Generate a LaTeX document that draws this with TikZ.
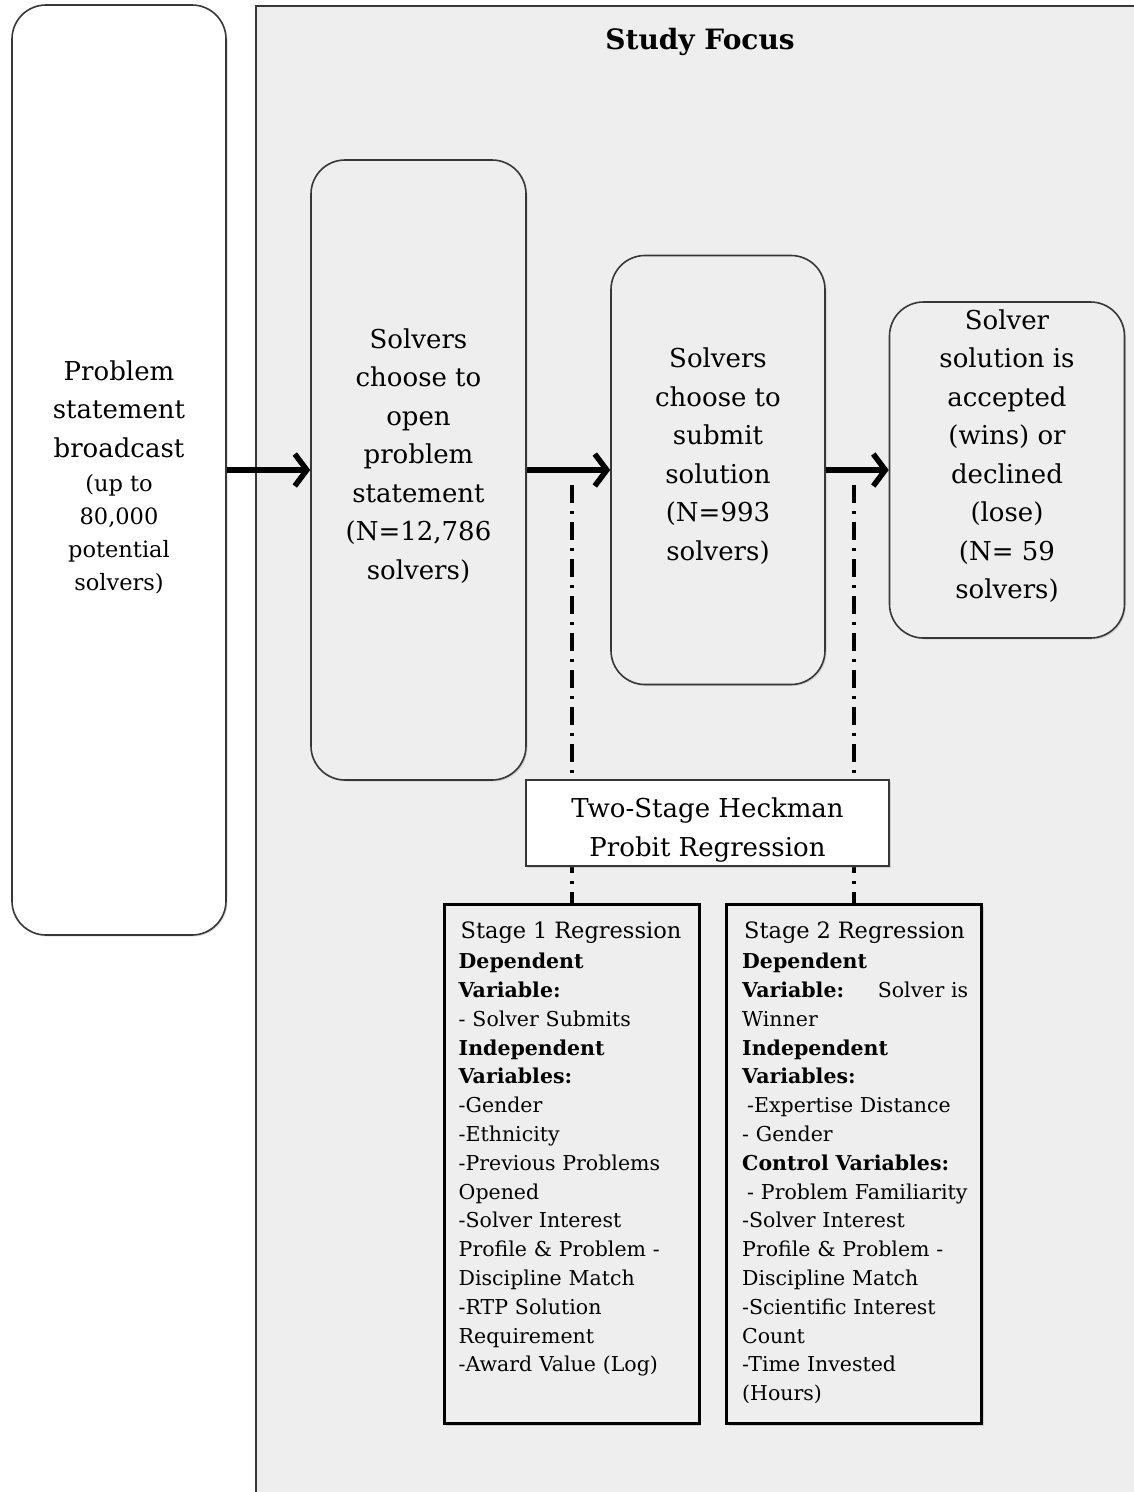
\documentclass[tikz,border=0pt]{standalone}
\usepackage{fontspec}
\setmainfont{DejaVu Serif}
\usetikzlibrary{arrows.meta, positioning, shadows}
\definecolor{panelgray}{RGB}{238,238,238}
\definecolor{edgegray}{RGB}{55,55,55}
\newcommand{\smalltxt}{\fontsize{22.5}{33}\selectfont}
\newcommand{\padbelow}{\rule[-32pt]{0pt}{1pt}}
\newcommand{\padabove}{\rule{0pt}{34pt}}

\tikzset{
  stepbox/.style={draw=edgegray, line width=1.6pt, rounded corners=34pt, align=center,
    inner sep=4pt, font=\fontsize{26}{38.5}\selectfont,
    drop shadow={opacity=0.25, shadow xshift=1.5pt, shadow yshift=-1.5pt}},
  regbox/.style={draw=black, line width=3pt, fill=panelgray, anchor=north,
    minimum width=255pt, minimum height=519pt,
    drop shadow={opacity=0.3, shadow xshift=2pt, shadow yshift=-2pt}},
  regtext/.style={anchor=north west, inner sep=0pt, text width=226pt, align=left,
    font=\fontsize{20.5}{28.8}\selectfont},
  headbox/.style={draw=edgegray, line width=1.6pt, fill=white, align=center,
    minimum width=363pt, minimum height=86pt, font=\fontsize{26}{38.5}\selectfont,
    drop shadow={opacity=0.25, shadow xshift=1.5pt, shadow yshift=-1.5pt}},
  flowarrow/.style={line width=5.5pt, -{Straight Barb[length=12pt, width=32pt]}},
  linkline/.style={line width=4pt, dash pattern=on 18pt off 8pt on 3pt off 8pt}
}

\begin{document}
\begin{tikzpicture}[x=1pt, y=-1pt]
  \useasboundingbox[fill=white] (0,0) rectangle (1134,1492);

  % study focus panel
  \fill[panelgray] (256,6) rectangle (1134,1492);
  \draw[edgegray, line width=1.5pt] (1134,6) -- (256,6) -- (256,1492);
  \node[font=\fontsize{28}{34}\selectfont\bfseries] (focus) at (700,42) {Study Focus};

  % flow of solvers
  \node[stepbox, fill=white, minimum width=214pt, minimum height=930pt] (broadcast) at (119,470)
    {\padabove Problem\\statement\\broadcast\\[-4.5pt]
     \smalltxt (up to\\[-5.5pt] \smalltxt 80,000\\[-5.5pt] \smalltxt potential\\[-5.5pt] \smalltxt solvers)};
  \node[stepbox, fill=panelgray, minimum width=215pt, minimum height=620pt] (open) at (418.5,470)
    {Solvers\\choose to\\open\\problem\\statement\\(N=12,786\\solvers)\padbelow};
  \node[stepbox, fill=panelgray, minimum width=214pt, minimum height=429pt] (submit) at (718,470)
    {Solvers\\choose to\\submit\\solution\\(N=993\\solvers)\padbelow};
  \node[stepbox, fill=panelgray, minimum width=235pt, minimum height=336pt] (winner) at (1007,470)
    {Solver\\solution is\\accepted\\(wins) or\\declined\\(lose)\\(N= 59\\solvers)\padbelow};

  \draw[flowarrow] (broadcast.east) -- (open.west);
  \draw[flowarrow] (open.east) -- (submit.west);
  \draw[flowarrow] (submit.east) -- (winner.west);

  % regression stages
  \node[regbox] (stage1) at (571.5,903) {};
  \node[regbox] (stage2) at (854,903) {};
  \node[regtext] (stage1text) at ([xshift=16pt, yshift=-19pt]stage1.north west)
    {\hspace*{2pt}{\fontsize{22.5}{28.8}\selectfont Stage 1 Regression}\\[1pt]
     \textbf{Dependent}\\ \textbf{Variable:}\\
     - Solver Submits\\
     \textbf{Independent}\\ \textbf{Variables:}\\
     -Gender\\ -Ethnicity\\ -Previous Problems\\ Opened\\
     -Solver Interest\\ Profile \& Problem -\\ Discipline Match\\
     -RTP Solution\\ Requirement\\ -Award Value (Log)};
  \node[regtext] (stage2text) at ([xshift=17pt, yshift=-19pt]stage2.north west)
    {\hspace*{2pt}{\fontsize{22.5}{28.8}\selectfont Stage 2 Regression}\\[1pt]
     \textbf{Dependent}\\ \textbf{Variable:}\hfill Solver is\\ Winner\\
     \textbf{Independent}\\ \textbf{Variables:}\\
     \hspace*{5pt}-Expertise Distance\\ - Gender\\
     \textbf{Control Variables:}\\
     \hspace*{5pt}- Problem Familiarity\\
     -Solver Interest\\ Profile \& Problem -\\ Discipline Match\\
     -Scientific Interest\\ Count\\ -Time Invested\\ (Hours)};

  % links to the model
  \coordinate (cut1) at (571.5,485);
  \coordinate (cut2) at (854,485);
  \draw[linkline] (cut1) -- (stage1.north);
  \draw[linkline] (cut2) -- (stage2.north);
  \node[headbox] (heckman) at (707.5,823) {\padabove Two-Stage Heckman\\Probit Regression};
\end{tikzpicture}
\end{document}
